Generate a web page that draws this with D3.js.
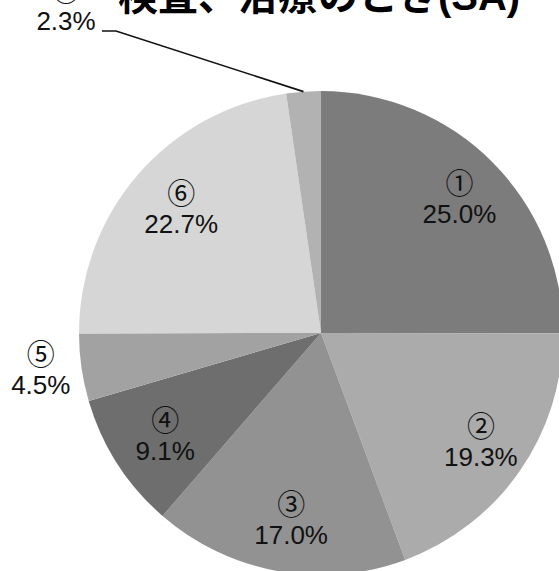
<!DOCTYPE html>
<html>
<head>
<meta charset="utf-8">
<script src="https://cdn.jsdelivr.net/npm/d3@7/dist/d3.min.js"></script>
<style>
  html, body { margin: 0; padding: 0; background: #fff; overflow: hidden; }
  svg { display: block; }
</style>
</head>
<body>
<svg id="chart" width="559" height="571"></svg>
<script>
// Survey answers for "検査、治療のとき(SA)"
const categories = ["①", "②", "③", "④", "⑤", "⑥", "⑦"];
const values = [25.0, 19.3, 17.0, 9.1, 4.5, 22.7, 2.3];
const colors = ["#7c7c7c", "#ababab", "#929292", "#6e6e6e", "#a2a2a2", "#d6d6d6", "#b2b2b2"];
const title = "検査、治療のとき(SA)";

const width = 559, height = 571;
const cx = 321, cy = 333, r = 242;

const svg = d3.select("#chart");
const data = categories.map((c, i) => ({ cat: c, value: values[i], color: colors[i] }));

const pie = d3.pie().sort(null).value(d => d.value);
const arcs = pie(data);
const arc = d3.arc().innerRadius(0).outerRadius(r);
const labelArc = d3.arc().innerRadius(190).outerRadius(190);
const outerArc = d3.arc().innerRadius(r * 1.17).outerRadius(r * 1.17);
const edgeArc = d3.arc().innerRadius(r).outerRadius(r);

const g = svg.append("g").attr("transform", `translate(${cx},${cy})`);

g.selectAll("path.slice")
  .data(arcs)
  .join("path")
  .attr("class", "slice")
  .attr("d", arc)
  .attr("fill", d => d.data.color);

const numFont = "'Noto Sans CJK JP', 'DejaVu Sans', sans-serif";
const pctFont = "'Liberation Sans', Arial, sans-serif";

function drawLabel(sel, x, y, d) {
  sel.append("text")
    .attr("x", x).attr("y", y - 5)
    .attr("text-anchor", "middle")
    .attr("font-family", numFont)
    .attr("font-size", 28)
    .attr("fill", "#111")
    .text(d.data.cat);
  sel.append("text")
    .attr("x", x).attr("y", y + 24)
    .attr("text-anchor", "middle")
    .attr("font-family", pctFont)
    .attr("font-size", 26)
    .attr("fill", "#111")
    .text(d.data.value.toFixed(1) + "%");
}

// Inside labels for the larger slices
arcs.forEach((d, i) => {
  if (d.data.value >= 5) {
    const [x, y] = labelArc.centroid(d);
    drawLabel(g, x + 4, y, d);
  }
});

// ⑤ sits just outside the pie
{
  const d = arcs[4];
  const [x, y] = outerArc.centroid(d);
  drawLabel(g, x, y - 3, d);
}

// ⑦ is pulled up to the top-left with a leader line
{
  const d = arcs[6];
  const [ex, ey] = edgeArc.centroid(d);
  const elbow = [116 - cx, 31 - cy];
  const start = [102 - cx, 31 - cy];
  g.append("polyline")
    .attr("points", [[ex, ey], elbow, start].map(p => p.join(",")).join(" "))
    .attr("fill", "none")
    .attr("stroke", "#111")
    .attr("stroke-width", 1.6);
  drawLabel(g, 66 - cx, 6 - cy, d);
}

// Title
svg.append("text")
  .attr("x", cx - 2).attr("y", 10)
  .attr("text-anchor", "middle")
  .attr("font-family", "'Liberation Sans', 'Noto Sans CJK JP', sans-serif")
  .attr("font-weight", "bold")
  .attr("font-size", 40)
  .attr("fill", "#000")
  .text(title);
</script>
</body>
</html>
